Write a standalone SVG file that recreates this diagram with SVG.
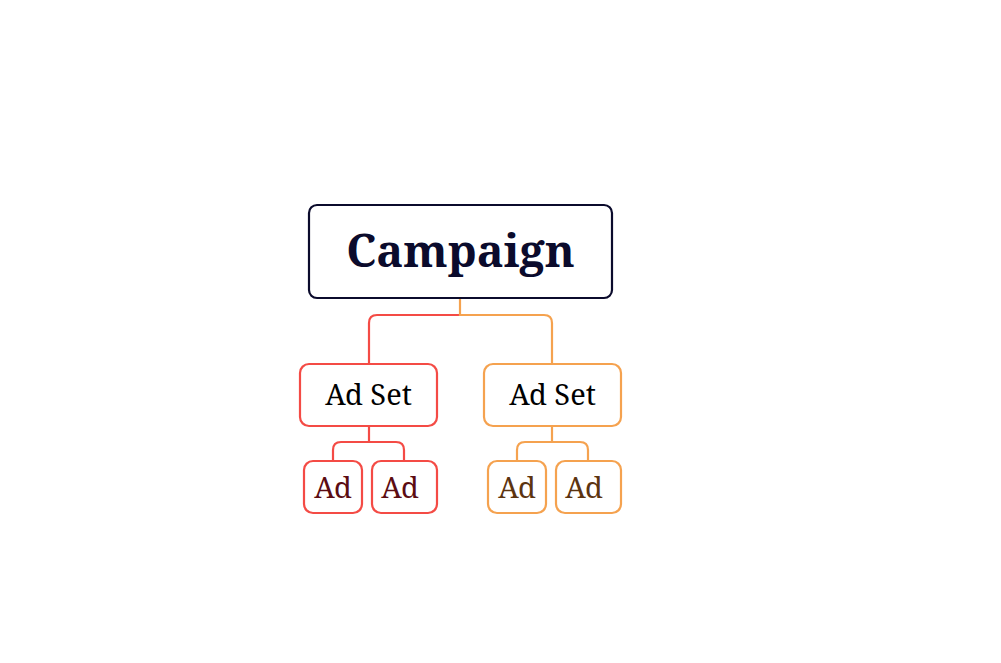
<svg xmlns="http://www.w3.org/2000/svg" width="1001" height="663" viewBox="0 0 1001 663">
<style>
.t{font-family:"Noto Serif","DejaVu Serif","Liberation Serif",serif;text-anchor:middle}
.box{fill:#fff;stroke-width:2.2}
.red{stroke:#f44b45}
.org{stroke:#f5a24f}
.c{fill:none;stroke-width:2.2}
</style>
<rect width="1001" height="663" fill="#fff"/>
<g id="connectors">
<path class="c red" d="M460,315 H377 Q369,315 369,323 V363"/>
<path class="c org" d="M460,298 V315 H544 Q552,315 552,323 V363"/>
<path class="c red" d="M369,426 V442 H341 Q333,442 333,450 V461 M369,442 H396 Q404,442 404,450 V461"/>
<path class="c org" d="M552,426 V442 H525 Q517,442 517,450 V461 M552,442 H580 Q588,442 588,450 V461"/>
</g>
<g id="campaign">
<rect class="box" x="309" y="205" width="303" height="93" rx="8" stroke="#0b0b2c"/>
<text class="t" x="460.5" y="267" font-size="45" font-weight="bold" fill="#0b0b2c">Campaign</text>
</g>
<g id="adset1">
<rect class="box red" x="300" y="364" width="137" height="62" rx="9"/>
<text class="t" x="368.5" y="405" font-size="29" fill="#000">Ad Set</text>
</g>
<g id="adset2">
<rect class="box org" x="484" y="364" width="137" height="62" rx="9"/>
<text class="t" x="552.5" y="405" font-size="29" fill="#000">Ad Set</text>
</g>
<g id="ad1">
<rect class="box red" x="304" y="461" width="58" height="52" rx="9"/>
<text class="t" x="333" y="498" font-size="29" fill="#5c0c12">Ad</text>
</g>
<g id="ad2">
<rect class="box red" x="372" y="461" width="65" height="52" rx="9"/>
<text class="t" x="400" y="498" font-size="29" fill="#5c0c12">Ad</text>
</g>
<g id="ad3">
<rect class="box org" x="488" y="461" width="58" height="52" rx="9"/>
<text class="t" x="517" y="498" font-size="29" fill="#5c3410">Ad</text>
</g>
<g id="ad4">
<rect class="box org" x="556" y="461" width="65" height="52" rx="9"/>
<text class="t" x="584" y="498" font-size="29" fill="#5c3410">Ad</text>
</g>
</svg>
